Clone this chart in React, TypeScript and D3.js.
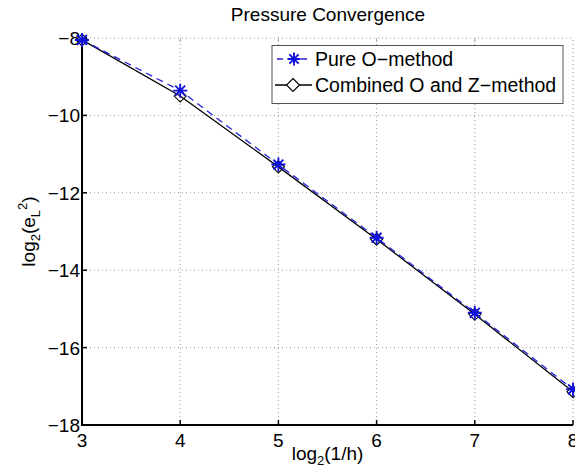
import * as d3 from "d3";
import { useEffect, useRef } from "react";

const levels = [3, 4, 5, 6, 7, 8];
const pureO = [-8.05, -9.36, -11.27, -13.16, -15.1, -17.08];
const combinedOZ = [-8.05, -9.5, -11.33, -13.2, -15.14, -17.14];
const xTicks = [3, 4, 5, 6, 7, 8];
const yTicks = [-18, -16, -14, -12, -10, -8];
const seriesNames = ["Pure O\u2212method", "Combined O and Z\u2212method"];

const FONT = "'Liberation Sans', Arial, Helvetica, sans-serif";

const starPath = (s: number) => {
    const d = s * 0.7071;
    return `M${-s},0L${s},0M0,${-s}L0,${s}M${-d},${-d}L${d},${d}M${-d},${d}L${d},${-d}`;
};
const diamondPath = (s: number) => `M0,${-s}L${s},0L0,${s}L${-s},0Z`;

const App = () => {
    const svgRef = useRef<SVGSVGElement>(null);

    useEffect(() => {
        const svg = d3.select(svgRef.current);
        const width = 575;
        const height = 470;
        const margin = { top: 38, right: 2, bottom: 45, left: 82 };

        svg.selectAll("*").remove();

        const x = d3.scaleLinear().domain([3, 8]).range([margin.left, width - margin.right]);
        const y = d3.scaleLinear().domain([-18, -8]).range([height - margin.bottom, margin.top]);

        const fmt = (v: number) => String(v).replace("-", "\u2212");

        // grid
        const grid = svg.append("g").attr("stroke", "#999").attr("stroke-width", 1).attr("stroke-dasharray", "1,3");
        xTicks.forEach(t => {
            grid.append("line")
                .attr("x1", x(t)).attr("x2", x(t))
                .attr("y1", y(-18)).attr("y2", y(-8));
        });
        yTicks.forEach(t => {
            grid.append("line")
                .attr("x1", x(3)).attr("x2", x(8))
                .attr("y1", y(t)).attr("y2", y(t));
        });

        // top ticks (light)
        xTicks.slice(1, -1).forEach(t => {
            svg.append("line")
                .attr("x1", x(t)).attr("x2", x(t))
                .attr("y1", y(-8)).attr("y2", y(-8) + 4)
                .attr("stroke", "#aaa");
        });

        // axes
        svg.append("line")
            .attr("x1", x(3)).attr("x2", x(3))
            .attr("y1", y(-18)).attr("y2", y(-8))
            .attr("stroke", "#000").attr("stroke-width", 2);
        svg.append("line")
            .attr("x1", x(3) - 1).attr("x2", x(8))
            .attr("y1", y(-18)).attr("y2", y(-18))
            .attr("stroke", "#000").attr("stroke-width", 2);

        xTicks.forEach(t => {
            svg.append("line")
                .attr("x1", x(t)).attr("x2", x(t))
                .attr("y1", y(-18)).attr("y2", y(-18) - 5)
                .attr("stroke", "#000").attr("stroke-width", 1.5);
            svg.append("text")
                .attr("x", x(t)).attr("y", y(-18) + 22)
                .attr("text-anchor", "middle")
                .attr("font-family", FONT).attr("font-size", 19)
                .text(t);
        });
        yTicks.forEach(t => {
            svg.append("line")
                .attr("x1", x(3)).attr("x2", x(3) + 5)
                .attr("y1", y(t)).attr("y2", y(t))
                .attr("stroke", "#000").attr("stroke-width", 1.5);
            svg.append("text")
                .attr("x", x(3) - 2).attr("y", y(t) + 7)
                .attr("text-anchor", "end")
                .attr("font-family", FONT).attr("font-size", 19)
                .text(fmt(t));
        });

        // title
        svg.append("text")
            .attr("x", 328).attr("y", 21)
            .attr("text-anchor", "middle")
            .attr("font-family", FONT).attr("font-size", 19)
            .text("Pressure Convergence");

        // x label
        const xl = svg.append("text")
            .attr("x", (x(3) + x(8)) / 2).attr("y", 460)
            .attr("text-anchor", "middle")
            .attr("font-family", FONT).attr("font-size", 19);
        xl.append("tspan").text("log");
        xl.append("tspan").attr("font-size", 13).attr("dy", 5).text("2");
        xl.append("tspan").attr("dy", -5).text("(1/h)");

        // y label
        const yl = svg.append("text")
            .attr("transform", `translate(35,${(y(-18) + y(-8)) / 2}) rotate(-90)`)
            .attr("text-anchor", "middle")
            .attr("font-family", FONT).attr("font-size", 19);
        yl.append("tspan").text("log");
        yl.append("tspan").attr("font-size", 13).attr("dy", 5).text("2");
        yl.append("tspan").attr("dy", -5).text("(e");
        yl.append("tspan").attr("font-size", 13).attr("dy", 5).text("L");
        yl.append("tspan").attr("font-size", 13).attr("dy", -13).text("2");
        yl.append("tspan").attr("dy", 8).text(")");

        const line = d3.line<number>()
            .x((_, i) => x(levels[i]))
            .y(d => y(d));

        // combined (black, diamonds)
        svg.append("path")
            .datum(combinedOZ)
            .attr("fill", "none").attr("stroke", "#000").attr("stroke-width", 1.3)
            .attr("d", line);
        combinedOZ.forEach((v, i) => {
            svg.append("path")
                .attr("transform", `translate(${x(levels[i])},${y(v)})`)
                .attr("d", diamondPath(6))
                .attr("fill", "none").attr("stroke", "#000").attr("stroke-width", 1.1);
        });

        // pure (blue dashed, stars)
        svg.append("path")
            .datum(pureO)
            .attr("fill", "none").attr("stroke", "#2222dd").attr("stroke-width", 1.3)
            .attr("stroke-dasharray", "7,5")
            .attr("d", line);
        pureO.forEach((v, i) => {
            svg.append("path")
                .attr("transform", `translate(${x(levels[i])},${y(v)})`)
                .attr("d", starPath(7))
                .attr("fill", "none").attr("stroke", "#1111dd").attr("stroke-width", 1.9);
        });

        // legend
        const lg = svg.append("g");
        lg.append("rect")
            .attr("x", 272).attr("y", 45.5).attr("width", 291).attr("height", 58)
            .attr("fill", "#fff").attr("stroke", "#555").attr("stroke-width", 1);
        const rows = [59, 85];
        lg.append("line")
            .attr("x1", 277).attr("x2", 311).attr("y1", rows[0]).attr("y2", rows[0])
            .attr("stroke", "#2222dd").attr("stroke-width", 1.3).attr("stroke-dasharray", "6,6");
        lg.append("path")
            .attr("transform", `translate(294,${rows[0]})`)
            .attr("d", starPath(6.5))
            .attr("fill", "none").attr("stroke", "#1111dd").attr("stroke-width", 1.9);
        lg.append("line")
            .attr("x1", 275).attr("x2", 312).attr("y1", rows[1]).attr("y2", rows[1])
            .attr("stroke", "#000").attr("stroke-width", 1.3);
        lg.append("path")
            .attr("transform", `translate(293,${rows[1]})`)
            .attr("d", diamondPath(6.5))
            .attr("fill", "#fff").attr("stroke", "#000").attr("stroke-width", 1.1);
        seriesNames.forEach((name, i) => {
            lg.append("text")
                .attr("x", 315).attr("y", rows[i] + 7)
                .attr("font-family", FONT).attr("font-size", 19.5)
                .text(name);
        });
    }, []);

    return (
        <svg
            ref={svgRef}
            width={575}
            height={470}
            style={{ position: "absolute", left: 0, top: 0, background: "#fff" }}
        />
    );
};

export default App;
